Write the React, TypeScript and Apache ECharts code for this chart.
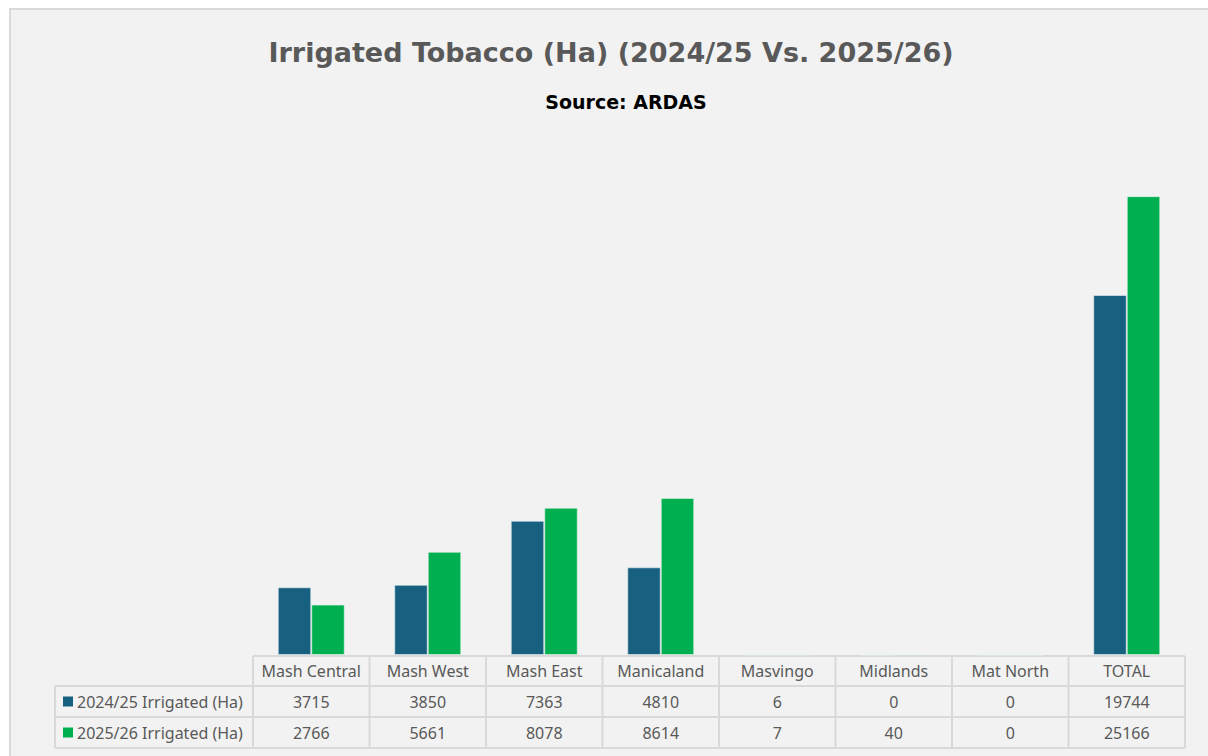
import React, { useEffect, useRef } from "react";
import * as echarts from "echarts";

const categories = ["Mash Central", "Mash West", "Mash East", "Manicaland", "Masvingo", "Midlands", "Mat North", "TOTAL"];
const values2024 = [3715, 3850, 7363, 4810, 6, 0, 0, 19744];
const values2025 = [2766, 5661, 8078, 8614, 7, 40, 0, 25166];
const seriesNames = ["2024/25 Irrigated (Ha)", "2025/26 Irrigated (Ha)"];
const seriesColors = ["#17607f", "#00b050"];
const titleText = "Irrigated Tobacco (Ha) (2024/25 Vs. 2025/26)";
const subtitleText = "Source: ARDAS";

export default function App() {
  const ref = useRef<HTMLDivElement>(null);
  useEffect(() => {
    if (!ref.current) return;
    const chart = echarts.init(ref.current, null, { renderer: "svg" });
    const FONT = "Noto Sans";
    const gridLeft = 242;
    const gridWidth = 932;
    const colW = gridWidth / categories.length;
    const yHeader = 646;
    const yRow1 = 676;
    const yRow2 = 707;
    const yEnd = 738;
    const legendLeft = 44;
    const lineStyle = { stroke: "#d9d9d9", lineWidth: 2 };
    const graphics: any[] = [];
    graphics.push({ type: "line", shape: { x1: gridLeft, y1: yHeader, x2: gridLeft + gridWidth, y2: yHeader }, style: lineStyle, silent: true });
    [yRow1, yRow2, yEnd].forEach((y) => {
      graphics.push({ type: "line", shape: { x1: legendLeft, y1: y, x2: gridLeft + gridWidth, y2: y }, style: lineStyle, silent: true });
    });
    for (let i = 0; i <= categories.length; i++) {
      const x = gridLeft + i * colW;
      graphics.push({ type: "line", shape: { x1: x, y1: yHeader, x2: x, y2: yEnd }, style: lineStyle, silent: true });
    }
    graphics.push({ type: "line", shape: { x1: legendLeft, y1: yRow1, x2: legendLeft, y2: yEnd }, style: lineStyle, silent: true });
    seriesNames.forEach((name, k) => {
      const cy = k === 0 ? (yRow1 + yRow2) / 2 : (yRow2 + yEnd) / 2;
      graphics.push({ type: "rect", shape: { x: 52, y: cy - 5, width: 10, height: 10 }, style: { fill: seriesColors[k] }, silent: true });
      graphics.push({
        type: "text", x: 66, y: cy,
        style: { text: name, fill: "#595959", font: `16px '${FONT}'`, textAlign: "left", textVerticalAlign: "middle" },
        silent: true,
      });
    });
    graphics.push({
      type: "text", x: 600, y: 42,
      style: { text: titleText, fill: "#595959", font: `bold 27px 'DejaVu Sans'`, textAlign: "center", textVerticalAlign: "middle" },
      silent: true,
    });
    graphics.push({
      type: "text", x: 615, y: 92,
      style: { text: subtitleText, fill: "#000000", font: `bold 19px 'DejaVu Sans'`, textAlign: "center", textVerticalAlign: "middle" },
      silent: true,
    });

    chart.setOption({
      animation: false,
      backgroundColor: "#f2f2f2",
      grid: { left: gridLeft, width: gridWidth, top: 98, bottom: 101 },
      xAxis: {
        type: "category",
        data: categories,
        axisLine: { show: false },
        axisTick: { show: false },
        axisLabel: {
          margin: 0,
          interval: 0,
          lineHeight: 31,
          color: "#595959",
          fontFamily: FONT,
          fontSize: 16,
          formatter: (v: string, i: number) => `{h|${v}}\n{v|${values2024[i]}}\n{v|${values2025[i]}}`,
          rich: {
            h: { lineHeight: 31, fontSize: 16, fontFamily: FONT, color: "#595959" },
            v: { lineHeight: 31, fontSize: 16, fontFamily: FONT, color: "#595959" },
          },
        },
      },
      yAxis: { type: "value", min: 0, max: 30000, show: false, splitLine: { show: false } },
      series: [
        {
          name: seriesNames[0], type: "bar", data: values2024, barWidth: 33.5, barGap: "0%",
          itemStyle: { color: seriesColors[0], borderColor: "rgba(230,240,245,0.6)", borderWidth: 1 },
        },
        {
          name: seriesNames[1], type: "bar", data: values2025, barWidth: 33.5, barGap: "0%",
          itemStyle: { color: seriesColors[1], borderColor: "rgba(230,245,235,0.6)", borderWidth: 1 },
        },
      ],
      graphic: graphics,
    });
    return () => chart.dispose();
  }, []);
  return (
    <div
      style={{
        position: "fixed", left: 9, top: 8, width: 1199, height: 748, boxSizing: "border-box",
        borderLeft: "2px solid #d9d9d9", borderTop: "2px solid #d9d9d9", background: "#f2f2f2", overflow: "hidden",
      }}
    >
      <div ref={ref} style={{ width: 1197, height: 746 }} />
    </div>
  );
}
